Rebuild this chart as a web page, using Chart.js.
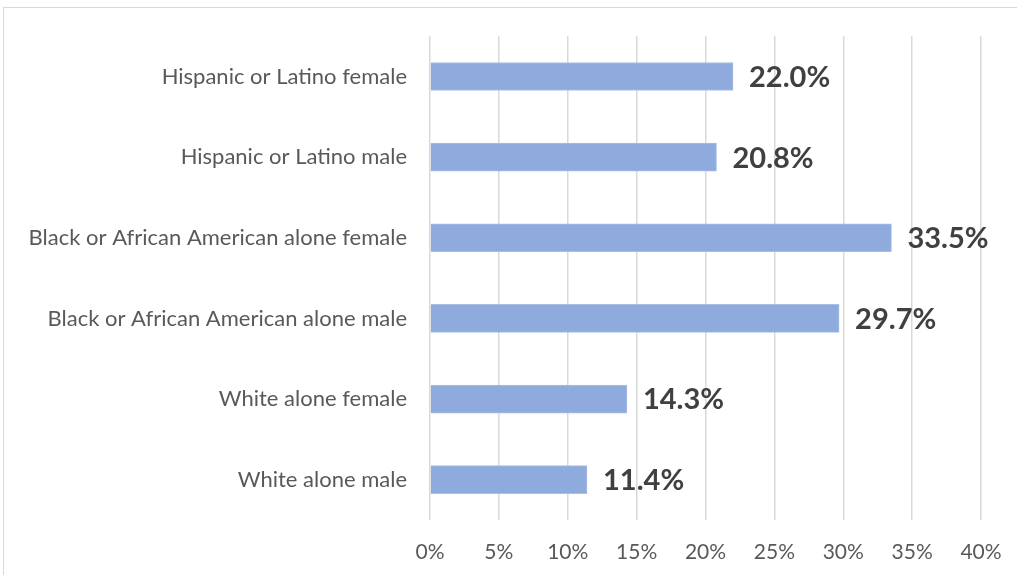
<!DOCTYPE html>
<html>
<head>
<meta charset="utf-8">
<script src="https://cdn.jsdelivr.net/npm/chart.js@4"></script>
<style>
  html, body { margin: 0; padding: 0; background: #fff; overflow: hidden; }
  #wrap { position: relative; width: 1017px; height: 575px; }
  #frame { position: absolute; left: 3px; top: 7px; width: 1030px; height: 600px; border: 1px solid #D9D9D9; box-sizing: border-box; }
  canvas { position: absolute; left: 0; top: 0; }
</style>
</head>
<body>
<div id="wrap">
  <div id="frame"></div>
  <canvas id="chart" width="1017" height="575"></canvas>
</div>
<script>
// Values
const categories = [
  'Hispanic or Latino female',
  'Hispanic or Latino male',
  'Black or African American alone female',
  'Black or African American alone male',
  'White alone female',
  'White alone male'
];
const shares = [22.0, 20.8, 33.5, 29.7, 14.3, 11.4];
const xTicks = [0, 5, 10, 15, 20, 25, 30, 35, 40];

const fontFamily = 'Lato, "Open Sans", sans-serif';

// draws the bold value next to each bar
const valueLabels = {
    id: 'valueLabels',
    afterDatasetsDraw(chart) {
        const ctx = chart.ctx;
        const meta = chart.getDatasetMeta(0);
        ctx.save();
        ctx.font = 'bold 29px ' + fontFamily;
        ctx.fillStyle = '#404040';
        ctx.textAlign = 'left';
        ctx.textBaseline = 'middle';
        meta.data.forEach(function(bar, i) {
            ctx.fillText(shares[i].toFixed(1) + '%', bar.x + 16, bar.y + 1);
        });
        ctx.restore();
    }
};

new Chart(document.getElementById('chart'), {
    type: 'bar',
    data: {
        labels: categories,
        datasets: [{
            data: shares,
            backgroundColor: '#8FAADC',
            borderColor: '#A9BFE6',
            borderWidth: 1,
            barThickness: 28
        }]
    },
    options: {
        indexAxis: 'y',
        responsive: false,
        animation: false,
        layout: { padding: { top: 35, right: 36, left: 0, bottom: 0 } },
        plugins: {
            legend: { display: false },
            tooltip: { enabled: false }
        },
        scales: {
            x: {
                min: 0,
                max: 40,
                afterBuildTicks(scale) {
                    scale.ticks = xTicks.map(v => ({ value: v }));
                },
                afterFit(scale) {
                    scale.height = 55;
                    scale.paddingLeft = 0;
                    scale.paddingRight = 0;
                },
                grid: { color: '#D9D9D9', lineWidth: 1.5, drawTicks: false },
                border: { display: false },
                ticks: {
                    padding: 20,
                    color: '#595959',
                    font: { family: fontFamily, size: 21 },
                    callback: v => v + '%'
                }
            },
            y: {
                afterFit(scale) { scale.width = 430; },
                grid: { display: false, drawTicks: false },
                border: { display: false },
                ticks: {
                    padding: 23,
                    color: '#595959',
                    font: { family: fontFamily, size: 22 }
                }
            }
        }
    },
    plugins: [valueLabels]
});
</script>
</body>
</html>
